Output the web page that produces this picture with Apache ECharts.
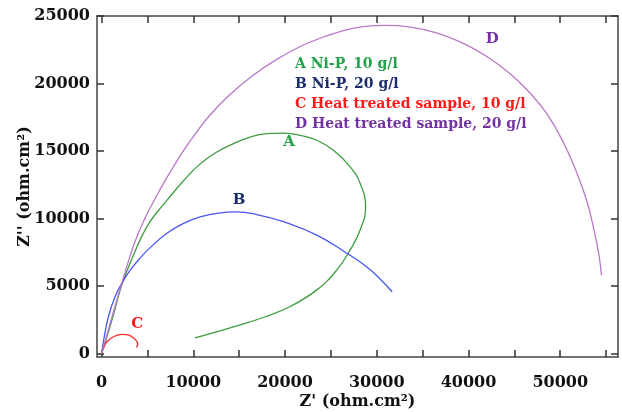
<!DOCTYPE html>
<html>
<head>
<meta charset="utf-8">
<script src="https://cdn.jsdelivr.net/npm/echarts@6/dist/echarts.min.js"></script>
<style>
  html, body { margin: 0; padding: 0; background: #fff; }
  #chart { width: 622px; height: 412px; }
</style>
</head>
<body>
<div id="chart"></div>
<script>
// Nyquist curves, Z' (x) and Z'' (y) in ohm.cm2
const seriesNames = ['A Ni-P, 10 g/l', 'B Ni-P, 20 g/l', 'C Heat treated sample, 10 g/l', 'D Heat treated sample, 20 g/l'];

const aX = [0, 600, 1300, 2210, 3660, 4500, 5300, 6200, 7120, 8930, 10750, 12570, 14380, 16200, 18020, 19830, 21650, 23470, 25280, 27100, 28190, 28780, 28190, 27100, 25650, 23470, 20560, 17840, 14750, 10200];
const aY = [0, 1300, 2900, 5100, 7600, 8850, 9800, 10600, 11350, 12800, 14050, 14930, 15550, 16040, 16290, 16330, 16160, 15800, 15060, 13830, 12600, 10880, 9150, 7680, 6200, 4720, 3490, 2730, 2050, 1160];

const bX = [0, 300, 750, 1400, 2210, 3200, 4300, 5300, 7120, 8930, 10750, 12570, 14750, 16930, 19830, 23470, 26740, 28920, 30340, 31680];
const bY = [0, 1300, 2750, 4100, 5220, 6250, 7150, 7850, 8910, 9650, 10130, 10390, 10500, 10300, 9770, 8780, 7430, 6420, 5550, 4580];

const cX = [0, 200, 600, 1300, 2200, 2900, 3480, 3900, 3950, 3750];
const cY = [0, 400, 900, 1250, 1430, 1380, 1160, 830, 650, 480];

const dX = [0, 1000, 2210, 3000, 3900, 4750, 5700, 6700, 7800, 9000, 10300, 11800, 13700, 16200, 19000, 22500, 26000, 29000, 31000, 33500, 36500, 39500, 42000, 44500, 46500, 48500, 50300, 51800, 52900, 53700, 54200, 54500];
const dY = [0, 2400, 5220, 7000, 8750, 10050, 11300, 12550, 13800, 15100, 16350, 17650, 19000, 20450, 21750, 23000, 23850, 24250, 24300, 24200, 23750, 22950, 22000, 20750, 19450, 17800, 15700, 13400, 11300, 9100, 7400, 5800];

const curveLetters = ['A', 'B', 'C', 'D'];
const letterPos = [[20450, 15650], [15000, 11370], [3880, 2210], [42580, 23320]];

const xLabelValues = [0, 10000, 20000, 30000, 40000, 50000];
const xTickValues = [0, 5000, 10000, 15000, 20000, 25000, 30000, 35000, 40000, 45000, 50000, 55000];
const yTickValues = [0, 5000, 10000, 15000, 20000, 25000];

const lineColors = ['#3e9c3e', '#4a56f0', '#ff2a2a', '#b978c8'];
const textColors = ['#22a24a', '#1b2d6b', '#ff1a1a', '#7232a2'];

const font = 'DejaVu Serif';
const zip = (xs, ys) => xs.map((v, i) => [v, ys[i]]);
const allData = [zip(aX, aY), zip(bX, bY), zip(cX, cY), zip(dX, dY)];

const chart = echarts.init(document.getElementById('chart'), null, { renderer: 'canvas' });

const axisLine = { show: true, onZero: false, lineStyle: { color: '#444', width: 1.5 } };
const tickStyle = { color: '#333', width: 1.5 };
const plain = v => String(v);

const option = {
  backgroundColor: '#fff',
  animation: false,
  grid: { left: 97, right: 4, top: 16, bottom: 55, outerBoundsMode: 'none', containLabel: false },
  legend: {
    orient: 'vertical',
    left: 285,
    top: 52,
    itemWidth: 0,
    itemHeight: 0,
    itemGap: 6,
    icon: 'none',
    selectedMode: false,
    textStyle: { fontFamily: font, fontWeight: 'bold', fontSize: 14 },
    data: seriesNames.map((n, i) => ({ name: n, textStyle: { color: textColors[i] } }))
  },
  xAxis: [
    {
      type: 'value', min: -500, max: 56300,
      name: "Z' (ohm.cm²)", nameLocation: 'middle', nameGap: 37, nameMoveOverlap: false,
      nameTextStyle: { fontFamily: font, fontWeight: 'bold', fontSize: 16, color: '#111' },
      axisLine: axisLine,
      axisTick: { show: true, inside: true, length: 7, customValues: xTickValues, lineStyle: tickStyle },
      axisLabel: { customValues: xLabelValues, formatter: plain, margin: 18, fontFamily: font, fontWeight: 'bold', fontSize: 16, color: '#111' },
      splitLine: { show: false }
    },
    {
      type: 'value', min: -500, max: 56300, position: 'top',
      axisLine: axisLine,
      axisTick: { show: true, inside: true, length: 7, customValues: xTickValues, lineStyle: tickStyle },
      axisLabel: { show: false },
      splitLine: { show: false }
    }
  ],
  yAxis: [
    {
      type: 'value', min: -250, max: 25000,
      name: "Z'' (ohm.cm²)", nameLocation: 'middle', nameGap: 64, nameMoveOverlap: false,
      nameTextStyle: { fontFamily: font, fontWeight: 'bold', fontSize: 16, color: '#111' },
      axisLine: axisLine,
      axisTick: { show: true, inside: true, length: 7, customValues: yTickValues, lineStyle: tickStyle },
      axisLabel: { customValues: yTickValues, formatter: plain, margin: 7, fontFamily: font, fontWeight: 'bold', fontSize: 16, color: '#111' },
      splitLine: { show: false }
    },
    {
      type: 'value', min: -250, max: 25000, position: 'right',
      axisLine: axisLine,
      axisTick: { show: true, inside: true, length: 7, customValues: yTickValues, lineStyle: tickStyle },
      axisLabel: { show: false },
      splitLine: { show: false }
    }
  ],
  series: allData.map((d, i) => ({
    name: seriesNames[i],
    type: 'line',
    smooth: 0.45,
    showSymbol: false,
    data: d,
    lineStyle: { color: lineColors[i], width: 1.3 },
    itemStyle: { color: textColors[i] },
    markPoint: {
      symbol: 'circle',
      symbolSize: 0,
      silent: true,
      data: [{ coord: letterPos[i], value: curveLetters[i] }],
      label: {
        show: true, position: 'inside', formatter: curveLetters[i],
        fontFamily: font, fontWeight: 'bold', fontSize: 15, color: textColors[i]
      }
    }
  }))
};

chart.setOption(option);
</script>
</body>
</html>
